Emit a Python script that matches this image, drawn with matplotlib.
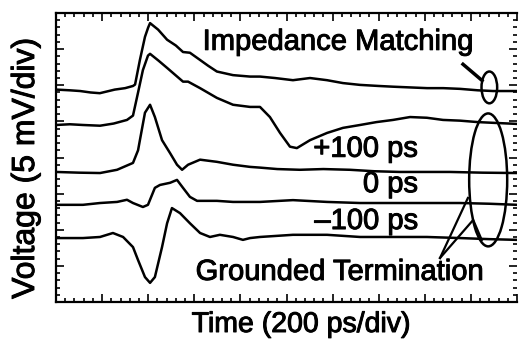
import matplotlib
matplotlib.use("Agg")
import matplotlib.pyplot as plt
import matplotlib.patheffects as pe
from matplotlib.patches import Ellipse
from matplotlib.ticker import MultipleLocator, NullFormatter

plt.rcParams['font.family'] = ['Liberation Sans', 'DejaVu Sans']

# ── TRACE DATA (time in ps, voltage in mV) ──
# Impedance matching
match_t = [0, 60, 105, 150, 190, 255, 300, 334, 343, 364, 386, 400, 408, 443, 482, 520,
           551, 581, 625, 660, 698, 768, 842, 885, 950, 1028, 1102, 1176, 1245, 1319,
           1400, 1462, 1536, 1610, 1680, 1753, 1830, 1896, 2000]
match_v = [29.4, 29.3, 29.2, 29.0, 28.9, 29.4, 29.6, 29.9, 30.1, 33.5, 36.7, 38.0, 38.6,
           37.7, 36.3, 35.5, 34.6, 34.5, 33.5, 32.7, 31.9, 31.4, 31.2, 31.2, 31.0, 30.7,
           31.0, 30.7, 30.3, 30.05, 29.9, 29.8, 29.7, 29.6, 29.6, 29.5, 29.3, 29.2, 29.2]

# Grounded termination, +100 ps
plus_t = [0, 60, 117, 191, 250, 308, 334, 356, 377, 399, 408, 445, 482, 551, 573, 625,
          698, 768, 842, 885, 928, 972, 1015, 1045, 1102, 1176, 1245, 1319, 1390, 1462,
          1536, 1609, 1679, 1753, 1830, 1896, 2000]
plus_v = [24.5, 24.6, 24.5, 24.4, 24.7, 25.2, 25.8, 29.0, 32.1, 34.1, 34.35, 33.4, 32.4,
          30.5, 30.5, 29.6, 28.25, 27.3, 27.0, 27.0, 25.6, 23.4, 21.5, 21.3, 22.4, 23.4,
          24.1, 24.5, 24.9, 25.2, 25.6, 25.5, 25.2, 25.1, 24.9, 24.8, 24.65]

# Grounded termination, 0 ps
zero_t = [0, 100, 191, 265, 334, 356, 364, 386, 408, 429, 460, 495, 525, 547, 573, 625,
          698, 768, 842, 885, 960, 1058, 1160, 1275, 1380, 1492, 1600, 1709, 1850, 2000]
zero_v = [18.0, 17.9, 17.85, 18.3, 19.25, 21.0, 22.4, 26.2, 27.3, 25.6, 22.4, 20.6, 19.0,
          18.3, 19.0, 19.7, 19.4, 19.0, 18.7, 18.6, 18.4, 18.3, 18.4, 18.3, 18.1, 18.0,
          18.0, 18.0, 17.9, 17.85]

# Grounded termination, -100 ps
minus_t = [0, 117, 191, 265, 308, 334, 377, 399, 429, 451, 495, 525, 551, 581, 612, 698,
           768, 842, 885, 1028, 1176, 1319, 1462, 1609, 1753, 1880, 2000]
minus_v = [13.45, 13.45, 13.7, 13.85, 14.15, 13.7, 13.15, 13.45, 15.8, 16.2, 16.5, 16.9,
           15.8, 14.55, 14.0, 14.0, 13.85, 13.85, 13.85, 14.1, 13.85, 13.7, 13.7, 13.7,
           13.7, 13.6, 13.45]

# Bottom trace
low_t = [0, 117, 191, 247, 291, 334, 356, 386, 408, 429, 460, 482, 503, 538, 581, 625,
         668, 711, 768, 811, 842, 885, 1028, 1176, 1319, 1462, 1609, 1753, 1880, 2000]
low_v = [8.85, 8.85, 9.0, 9.55, 9.0, 7.6, 5.8, 3.45, 2.65, 3.45, 7.6, 10.9, 13.0, 12.3,
         10.9, 9.55, 9.0, 9.3, 9.0, 8.6, 8.85, 9.0, 9.3, 9.3, 9.0, 9.0, 9.0, 8.85, 8.7, 8.6]

traces = [(match_t, match_v), (plus_t, plus_v), (zero_t, zero_v),
          (minus_t, minus_v), (low_t, low_v)]

# ── FIGURE ────────────────────────────────────────────────────
W, H = 519, 345
fig = plt.figure(figsize=(W / 100, H / 100), dpi=100)
ax = fig.add_axes([56 / W, (H - 302) / H, (517 - 56) / W, (302 - 13) / H])

for t, v in traces:
    ax.plot(t, v, color='black', lw=1.8)

ax.set_xlim(0, 2000)
ax.set_ylim(0, 40)

ax.xaxis.set_major_locator(MultipleLocator(200))
ax.xaxis.set_minor_locator(MultipleLocator(40))
ax.yaxis.set_major_locator(MultipleLocator(5))
ax.yaxis.set_minor_locator(MultipleLocator(1))
ax.xaxis.set_major_formatter(NullFormatter())
ax.yaxis.set_major_formatter(NullFormatter())
ax.tick_params(which='both', direction='in', top=True, right=True, width=1.2, color='black')
ax.tick_params(which='major', length=6)
ax.tick_params(which='minor', length=3)
for side in ['left', 'top', 'bottom']:
    ax.spines[side].set_linewidth(1.6)
ax.spines['right'].set_visible(False)

# ── LABELS ────────────────────────────────────────────────────
# scanned print looks heavier than plain Arial, thicken a little
heavy = [pe.withStroke(linewidth=0.7, foreground='black')]
fs = 21
ax.text(1223, 34.9, 'Impedance Matching', fontsize=fs, ha='center', va='baseline', path_effects=heavy)
ax.text(1568, 20.1, '+100 ps', fontsize=fs, ha='right', va='baseline', path_effects=heavy)
ax.text(1570, 15.2, '0 ps', fontsize=fs, ha='right', va='baseline', path_effects=heavy)
ax.text(1570, 10.1, '\u2013100 ps', fontsize=fs, ha='right', va='baseline', path_effects=heavy)
ax.text(1230, 3.05, 'Grounded Termination', fontsize=fs, ha='center', va='baseline', path_effects=heavy)

fig.text(301 / W, (H - 332) / H, 'Time (200 ps/div)', fontsize=20.5, ha='center', va='baseline',
         path_effects=heavy)
fig.text(26 / W, (H - 168) / H, 'Voltage (5 mV/div)', fontsize=23, rotation=90,
         ha='center', va='center', path_effects=heavy)

# ── HAND-DRAWN MARKERS ────────────────────────────────────────
ax.add_patch(Ellipse((1880, 29.7), 68, 4.4, fill=False, lw=1.8, color='black'))
ax.plot([1760, 1854], [33.06, 30.51], color='black', lw=2.5, solid_capstyle='butt')

ax.add_patch(Ellipse((1875, 16.9), 165, 18.4, fill=False, lw=1.8, color='black'))
ax.plot([1666, 1787], [6.09, 14.40], color='black', lw=1.6)
ax.plot([1666, 1810, 1847], [6.09, 11.36, 8.59], color='black', lw=1.6)

fig.savefig('out.png', dpi=100, facecolor='white')
